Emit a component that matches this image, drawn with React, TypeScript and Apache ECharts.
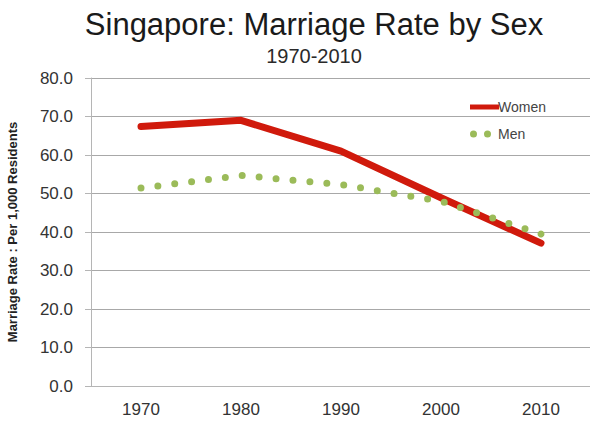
import React, { useEffect, useRef } from "react";
import * as echarts from "echarts";

const years = ["1970", "1980", "1990", "2000", "2010"];
const women = [67.4, 69.0, 61.0, 48.9, 37.1];
const men = [51.4, 54.7, 52.3, 48.0, 39.5];
const titleText = "Singapore: Marriage Rate by Sex";
const subtitleText = "1970-2010";
const yAxisName = "Marriage Rate : Per 1,000 Residents";

export default function App() {
  const ref = useRef<HTMLDivElement>(null);
  useEffect(() => {
    const chart = echarts.init(ref.current!, null, { renderer: "svg" });
    const font = "Liberation Sans, Arial, sans-serif";
    chart.setOption({
      animation: false,
      backgroundColor: "#ffffff",
      textStyle: { fontFamily: font },
      title: {
        text: titleText,
        subtext: subtitleText,
        left: 309,
        textAlign: "center",
        top: 4,
        itemGap: 6,
        textStyle: { fontSize: 31, fontWeight: "normal", color: "#1a1a1a", fontFamily: font },
        subtextStyle: { fontSize: 20, color: "#2a2a2a", fontFamily: font },
      },
      legend: {
        orient: "vertical",
        left: 465,
        top: 95,
        itemWidth: 29,
        itemHeight: 7,
        itemGap: 13,
        textStyle: { fontSize: 14, color: "#444", padding: [0, 0, 0, -6] },
        data: [
          { name: "Women", icon: "path://M0,1h29v5h-29z", itemStyle: { color: "#d01a0c" } },
          { name: "Men", icon: "path://M0,3.5a3.5,3.5 0 1,0 7,0a3.5,3.5 0 1,0 -7,0M14,3.5a3.5,3.5 0 1,0 7,0a3.5,3.5 0 1,0 -7,0M29,3.5h0", itemStyle: { color: "#9bbb59" } },
        ],
      },
      grid: { left: 91, right: -1, top: 78, bottom: 40, containLabel: false, outerBoundsMode: "none" },
      xAxis: {
        type: "category",
        data: years,
        boundaryGap: true,
        axisLine: { lineStyle: { color: "#b5b5b5", width: 1 } },
        axisTick: { alignWithLabel: true, inside: true, length: 5, lineStyle: { color: "#b5b5b5" } },
        axisLabel: { fontSize: 17, color: "#333", margin: 15 },
      },
      yAxis: {
        type: "value",
        min: 0,
        max: 80,
        interval: 10,
        name: yAxisName,
        nameLocation: "middle",
        nameGap: 72,
        nameRotate: 90,
        nameTextStyle: { fontSize: 13, fontWeight: "bold", color: "#222" },
        axisLine: { show: true, lineStyle: { color: "#b5b5b5" } },
        axisTick: { show: true, length: 6, lineStyle: { color: "#b5b5b5" } },
        axisLabel: { fontSize: 17, color: "#333", margin: 18, formatter: (v: number) => v.toFixed(1) },
        splitLine: { lineStyle: { color: "#a8a8a8", width: 1.2 } },
      },
      series: [
        {
          name: "Women",
          type: "line",
          data: women,
          symbol: "none",
          lineStyle: { color: "#d01a0c", width: 7, cap: "round", join: "round" },
          itemStyle: { color: "#d01a0c" },
          z: 3,
        },
        {
          name: "Men",
          type: "line",
          data: men.map((v, i) =>
            i === men.length - 1 ? { value: v, symbol: "circle", symbolSize: 7 } : v
          ),
          symbol: "none",
          showSymbol: true,
          lineStyle: { color: "#9bbb59", width: 7, type: [0, 17], cap: "round" },
          itemStyle: { color: "#9bbb59" },
          z: 4,
        },
      ],
    });
    return () => chart.dispose();
  }, []);
  return <div ref={ref} style={{ position: "fixed", left: 0, top: 0, width: 590, height: 426 }} />;
}
